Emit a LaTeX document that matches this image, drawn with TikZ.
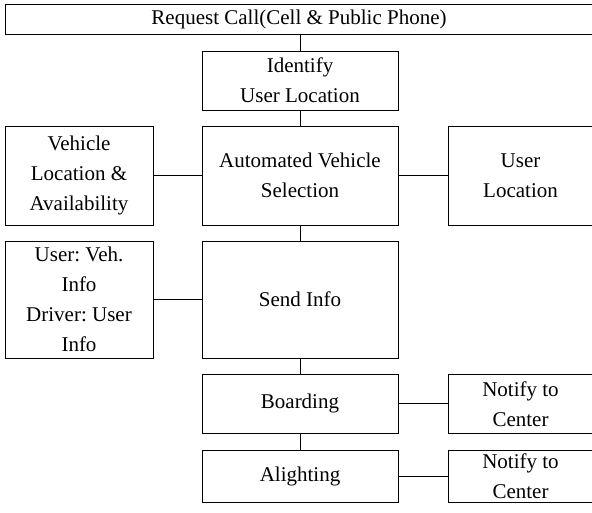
\documentclass[tikz,border=0pt]{standalone}
\usepackage{fontspec}
\setmainfont{Liberation Serif}
\frenchspacing
\begin{document}
\begin{tikzpicture}[x=1pt,y=-1pt,line width=.8pt,
    box/.style={draw,rectangle,inner sep=0pt,align=center,
        font=\fontsize{21}{30}\selectfont}]
    \useasboundingbox (0,0) rectangle (592,512);
    % main column
    \node[box,minimum width=588pt,minimum height=30pt](req) at (299,19.6)
        {Request Call(Cell \& Public Phone)};
    \node[box,minimum width=196pt,minimum height=59pt](ident) at (300,80.5)
        {Identify\\User Location};
    \node[box,minimum width=196pt,minimum height=99pt](auto) at (300,175.5)
        {Automated Vehicle\\Selection};
    \node[box,minimum width=196pt,minimum height=117pt](send) at (300,299.5)
        {Send Info};
    \node[box,minimum width=196pt,minimum height=59pt](board) at (300,403.8)
        {Boarding};
    \node[box,minimum width=196pt,minimum height=52pt](alight) at (300,476)
        {Alighting};
    % side boxes
    \node[box,minimum width=148pt,minimum height=99pt](vehloc) at (79,175.5)
        {Vehicle\\Location \&\\Availability};
    \node[box,minimum width=148pt,minimum height=117pt](info) at (79,299.5)
        {User: Veh.\\Info\\Driver: User\\Info};
    \node[box,minimum width=145pt,minimum height=99pt](userloc) at (520.5,175.5)
        {User\\Location};
    \node[box,minimum width=145pt,minimum height=59pt](notb) at (520.5,403.8)
        {Notify to\\Center};
    \node[box,minimum width=145pt,minimum height=52pt](nota) at (520.5,476)
        {Notify to\\Center};
    % links
    \draw(req.south-|ident.north)--(ident.north);
    \draw(ident)--(auto);
    \draw(auto)--(send);
    \draw(send)--(board);
    \draw(board)--(alight);
    \draw(vehloc)--(auto);
    \draw(auto)--(userloc);
    \draw(info)--(send);
    \draw(board)--(notb);
    \draw(alight)--(nota);
\end{tikzpicture}
\end{document}
